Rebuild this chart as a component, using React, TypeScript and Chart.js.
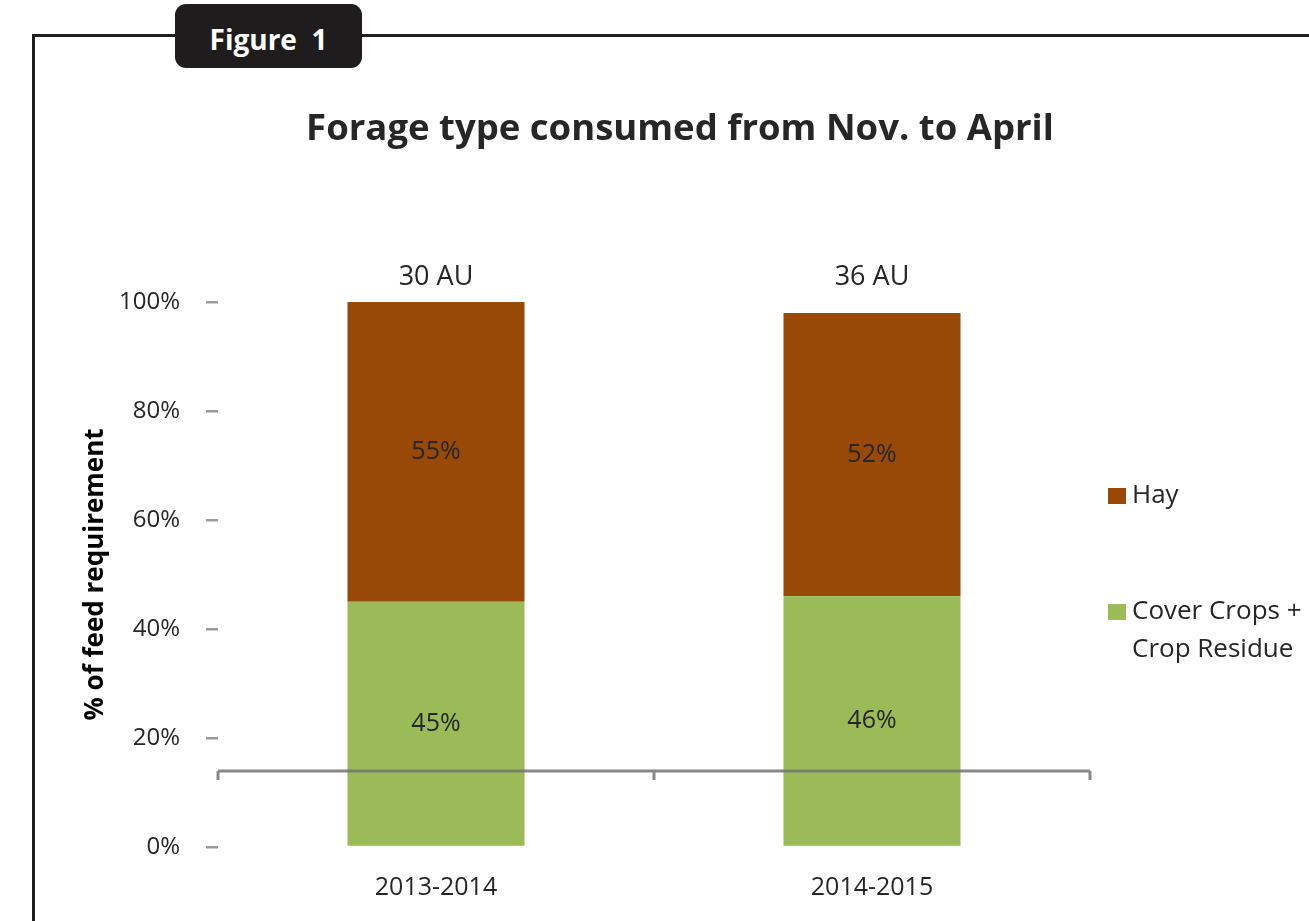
import React, { useEffect, useRef } from "react";
import { Chart, registerables } from "chart.js";

Chart.register(...registerables);

const categories = ["2013-2014", "2014-2015"];
const coverCrops = [45, 46];
const hay = [55, 52];
const herdSize = ["30 AU", "36 AU"];
const yTicks = [0, 20, 40, 60, 80, 100];
const floatingAxisValue = 14;
const legendLines = [["Hay"], ["Cover Crops +", "Crop Residue"]];
const chartTitle = "Forage type consumed from Nov. to April";

const BROWN = "#984807";
const GREEN = "#9BBB59";
const FONT = "'Open Sans', 'Noto Sans', sans-serif";

const overlayPlugin = {
  id: "overlay",
  afterDatasetsDraw(chart: any) {
    const ctx = chart.ctx;
    const { left, right, top } = chart.chartArea;
    const y = chart.scales.y;
    const x = chart.scales.x;
    ctx.save();
    // title
    ctx.font = `bold 36.5px ${FONT}`;
    ctx.fillStyle = "#262626";
    ctx.textAlign = "center";
    ctx.textBaseline = "middle";
    ctx.fillText(chartTitle, 680, 130);
    // segment value labels
    ctx.font = `25px ${FONT}`;
    chart.data.datasets.forEach((ds: any, di: number) => {
      const meta = chart.getDatasetMeta(di);
      meta.data.forEach((el: any, i: number) => {
        const cy = (el.y + el.base) / 2;
        ctx.fillText(ds.data[i] + "%", el.x, cy);
      });
    });
    // herd size labels
    ctx.font = `27px ${FONT}`;
    herdSize.forEach((t, i) => {
      ctx.fillText(t, x.getPixelForValue(i), y.getPixelForValue(104.6));
    });
    // floating axis line
    const ly = Math.round(y.getPixelForValue(floatingAxisValue));
    ctx.strokeStyle = "rgba(115,115,115,0.85)";
    ctx.lineWidth = 3;
    ctx.beginPath();
    ctx.moveTo(left, ly);
    ctx.lineTo(right, ly);
    const bounds = [left, (left + right) / 2, right];
    bounds.forEach((bx) => {
      ctx.moveTo(bx, ly);
      ctx.lineTo(bx, ly + 9);
    });
    ctx.stroke();
    // legend
    const colors = [BROWN, GREEN];
    const legendY = [top + 194, top + 310];
    ctx.textAlign = "left";
    ctx.font = `26px ${FONT}`;
    legendLines.forEach((lines, i) => {
      const lx = right + 18;
      ctx.fillStyle = colors[i];
      ctx.fillRect(lx, legendY[i] - 8, 18, 16);
      ctx.fillStyle = "#262626";
      lines.forEach((ln, j) => {
        ctx.fillText(ln, lx + 24, legendY[i] + j * 38);
      });
    });
    ctx.restore();
  },
};

export default function App() {
  const ref = useRef<HTMLCanvasElement>(null);
  useEffect(() => {
    if (!ref.current) return;
    const chart = new Chart(ref.current, {
      type: "bar",
      data: {
        labels: categories,
        datasets: [
          {
            label: "Cover Crops + Crop Residue",
            data: coverCrops,
            backgroundColor: GREEN,
            barPercentage: 0.406,
            categoryPercentage: 1,
          },
          {
            label: "Hay",
            data: hay,
            backgroundColor: BROWN,
            barPercentage: 0.406,
            categoryPercentage: 1,
          },
        ],
      },
      options: {
        responsive: false,
        animation: false,
        devicePixelRatio: 1,
        layout: { padding: { left: 80, right: 219, top: 302, bottom: 0 } },
        plugins: {
          legend: { display: false },
          tooltip: { enabled: false },
          title: { display: false },
        },
        scales: {
          x: {
            stacked: true,
            grid: { display: false, drawTicks: false },
            border: { display: false },
            ticks: {
              color: "#262626",
              font: { family: FONT, size: 25 },
              padding: 26,
            },
            afterFit: (s: any) => {
              s.height = 74;
            },
          },
          y: {
            stacked: true,
            min: 0,
            max: 100,
            afterBuildTicks: (s: any) => {
              s.ticks = yTicks.map((v) => ({ value: v }));
            },
            grid: {
              drawOnChartArea: false,
              drawTicks: true,
              tickLength: 12,
              color: "#9a9a9a",
              lineWidth: 2.5,
            },
            border: { display: false },
            ticks: {
              color: "#262626",
              font: { family: FONT, size: 24 },
              padding: 26,
              callback: (v: any) => v + "%",
            },
            title: {
              display: true,
              text: "% of feed requirement",
              color: "#000",
              font: { family: FONT, size: 26, weight: "bold" },
              padding: { top: 0, bottom: 0 },
            },
            afterFit: (s: any) => {
              s.width = 138;
            },
          },
        },
      },
      plugins: [overlayPlugin],
    } as any);
    return () => chart.destroy();
  }, []);

  return (
    <div style={{ position: "fixed", left: 0, top: 0, width: 1309, height: 921, background: "#fff", overflow: "hidden" }}>
      <div
        style={{
          position: "absolute",
          left: 32,
          top: 34,
          width: 1400,
          height: 1000,
          borderTop: "3px solid #1f1f1f",
          borderLeft: "3px solid #1f1f1f",
        }}
      />
      <canvas ref={ref} width={1309} height={921} style={{ position: "absolute", left: 0, top: 0 }} />
      <div
        style={{
          position: "absolute",
          left: 175,
          top: 4,
          width: 187,
          height: 64,
          boxSizing: "border-box",
          paddingTop: 6,
          background: "#1f1c1d",
          borderRadius: 11,
          color: "#fff",
          fontFamily: FONT,
          fontWeight: "bold",
          fontSize: 28,
          display: "flex",
          alignItems: "center",
          justifyContent: "center",
          whiteSpace: "pre",
        }}
      >
        {"Figure  1"}
      </div>
    </div>
  );
}
